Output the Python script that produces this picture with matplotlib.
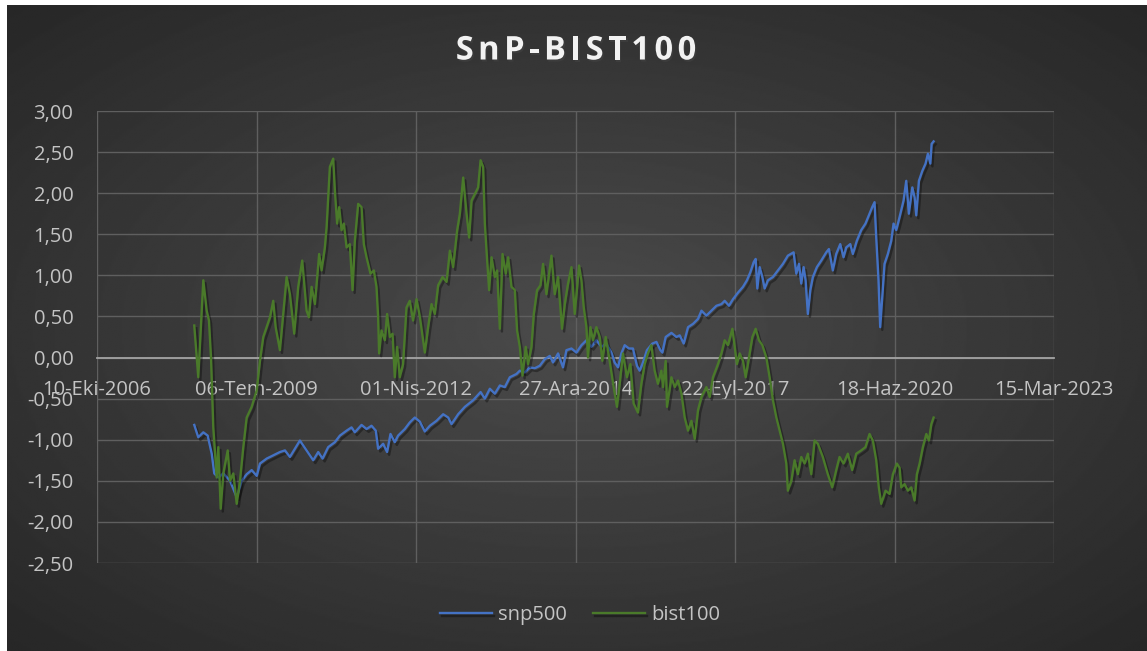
import numpy as np
import matplotlib
matplotlib.use('Agg')
import matplotlib.pyplot as plt
import matplotlib.dates as mdates
import matplotlib.patheffects as pe
from datetime import datetime

# decimal years and standardized values
snp_years = [2008.442, 2008.511, 2008.597, 2008.672, 2008.741, 2008.785, 2008.854, 2008.940,
             2009.055, 2009.170, 2009.255, 2009.341, 2009.427, 2009.513, 2009.569, 2009.684,
             2009.797, 2009.912, 2009.998, 2010.084, 2010.170, 2010.255, 2010.370, 2010.484,
             2010.570, 2010.645, 2010.741, 2010.856, 2010.942, 2011.057, 2011.142, 2011.199,
             2011.314, 2011.400, 2011.485, 2011.559, 2011.599, 2011.685, 2011.753, 2011.811,
             2011.885, 2011.942, 2012.057, 2012.142, 2012.228, 2012.314, 2012.400, 2012.486,
             2012.600, 2012.714, 2012.800, 2012.858, 2012.971, 2013.086, 2013.228, 2013.356,
             2013.429, 2013.515, 2013.601, 2013.687, 2013.772, 2013.858, 2013.973, 2014.030,
             2014.115, 2014.201, 2014.287, 2014.373, 2014.458, 2014.544, 2014.601, 2014.687,
             2014.772, 2014.831, 2014.917, 2015.002, 2015.088, 2015.174, 2015.259, 2015.345,
             2015.431, 2015.517, 2015.603, 2015.659, 2015.716, 2015.774, 2015.831, 2015.905,
             2015.973, 2016.042, 2016.088, 2016.145, 2016.213, 2016.306, 2016.375, 2016.443,
             2016.477, 2016.534, 2016.632, 2016.718, 2016.774, 2016.843, 2016.917, 2017.003,
             2017.088, 2017.147, 2017.232, 2017.318, 2017.404, 2017.490, 2017.546, 2017.620,
             2017.689, 2017.775, 2017.860, 2017.929, 2017.988, 2018.044, 2018.078, 2018.107,
             2018.147, 2018.193, 2018.233, 2018.289, 2018.375, 2018.461, 2018.547, 2018.632,
             2018.730, 2018.777, 2018.822, 2018.862, 2018.902, 2018.936, 2018.975, 2019.017,
             2019.061, 2019.130, 2019.205, 2019.291, 2019.336, 2019.404, 2019.462, 2019.531,
             2019.588, 2019.634, 2019.703, 2019.748, 2019.816, 2019.891, 2019.965, 2020.034,
             2020.080, 2020.120, 2020.149, 2020.188, 2020.217, 2020.252, 2020.291, 2020.348,
             2020.406, 2020.446, 2020.492, 2020.549, 2020.617, 2020.663, 2020.708, 2020.767,
             2020.806, 2020.835, 2020.880, 2020.938, 2020.994, 2021.034, 2021.076, 2021.098,
             2021.132]
snp500 = [-0.82, -0.97, -0.91, -0.95, -1.17, -1.41, -1.46, -1.41,
          -1.50, -1.70, -1.50, -1.42, -1.37, -1.44, -1.29, -1.23,
          -1.19, -1.15, -1.13, -1.21, -1.11, -1.01, -1.13, -1.25,
          -1.15, -1.23, -1.09, -1.03, -0.95, -0.89, -0.85, -0.91,
          -0.82, -0.87, -0.83, -0.89, -1.11, -1.05, -1.15, -0.93,
          -1.03, -0.95, -0.87, -0.79, -0.73, -0.78, -0.90, -0.83,
          -0.77, -0.69, -0.73, -0.81, -0.69, -0.60, -0.52, -0.42,
          -0.50, -0.38, -0.44, -0.34, -0.36, -0.24, -0.20, -0.16,
          -0.18, -0.12, -0.13, -0.10, -0.02, 0.02, -0.06, 0.05,
          -0.12, 0.09, 0.11, 0.06, 0.15, 0.21, 0.13, 0.21,
          0.13, 0.17, 0.06, -0.06, -0.12, 0.05, 0.15, 0.11,
          0.11, -0.10, -0.16, -0.06, 0.09, 0.17, 0.19, 0.09,
          0.06, 0.25, 0.30, 0.25, 0.27, 0.17, 0.37, 0.41,
          0.47, 0.57, 0.51, 0.57, 0.63, 0.65, 0.69, 0.63,
          0.71, 0.79, 0.86, 0.94, 1.04, 1.16, 1.20, 0.84,
          1.10, 0.98, 0.84, 0.94, 0.98, 1.06, 1.14, 1.24,
          1.28, 1.02, 1.14, 0.90, 1.10, 0.94, 0.53, 0.82,
          0.98, 1.10, 1.18, 1.28, 1.32, 1.06, 1.26, 1.38,
          1.22, 1.34, 1.38, 1.26, 1.42, 1.55, 1.63, 1.75,
          1.83, 1.89, 1.46, 0.94, 0.37, 0.73, 1.14, 1.26,
          1.42, 1.63, 1.55, 1.71, 1.91, 2.15, 1.75, 2.07,
          1.95, 1.73, 2.15, 2.27, 2.36, 2.48, 2.36, 2.60,
          2.63]

bist_years = [2008.442, 2008.511, 2008.597, 2008.655, 2008.694, 2008.729, 2008.768, 2008.826,
              2008.854, 2008.895, 2008.940, 2009.015, 2009.055, 2009.111, 2009.170, 2009.226,
              2009.283, 2009.341, 2009.427, 2009.513, 2009.569, 2009.626, 2009.684, 2009.741,
              2009.797, 2009.839, 2009.912, 2009.969, 2010.027, 2010.084, 2010.158, 2010.226,
              2010.295, 2010.370, 2010.410, 2010.456, 2010.513, 2010.586, 2010.628, 2010.684,
              2010.714, 2010.770, 2010.827, 2010.856, 2010.895, 2010.930, 2010.971, 2011.010,
              2011.057, 2011.113, 2011.160, 2011.199, 2011.256, 2011.314, 2011.353, 2011.400,
              2011.468, 2011.525, 2011.571, 2011.599, 2011.616, 2011.657, 2011.714, 2011.753,
              2011.800, 2011.846, 2011.885, 2011.925, 2011.971, 2012.027, 2012.086, 2012.142,
              2012.199, 2012.258, 2012.314, 2012.400, 2012.456, 2012.515, 2012.571, 2012.628,
              2012.704, 2012.772, 2012.829, 2012.885, 2012.954, 2013.000, 2013.057, 2013.115,
              2013.160, 2013.201, 2013.258, 2013.314, 2013.356, 2013.400, 2013.429, 2013.469,
              2013.503, 2013.544, 2013.601, 2013.640, 2013.687, 2013.733, 2013.789, 2013.829,
              2013.887, 2013.944, 2013.983, 2014.030, 2014.076, 2014.132, 2014.172, 2014.230,
              2014.270, 2014.326, 2014.385, 2014.429, 2014.488, 2014.573, 2014.630, 2014.687,
              2014.755, 2014.802, 2014.858, 2014.917, 2014.973, 2015.047, 2015.088, 2015.128,
              2015.174, 2015.201, 2015.242, 2015.287, 2015.345, 2015.402, 2015.448, 2015.505,
              2015.573, 2015.642, 2015.699, 2015.745, 2015.802, 2015.870, 2015.929, 2015.985,
              2016.059, 2016.117, 2016.174, 2016.230, 2016.289, 2016.345, 2016.402, 2016.460,
              2016.488, 2016.534, 2016.557, 2016.632, 2016.689, 2016.745, 2016.804, 2016.860,
              2016.917, 2016.975, 2017.032, 2017.088, 2017.147, 2017.232, 2017.289, 2017.345,
              2017.431, 2017.490, 2017.546, 2017.603, 2017.678, 2017.718, 2017.757, 2017.804,
              2017.860, 2017.907, 2017.963, 2018.022, 2018.078, 2018.135, 2018.193, 2018.262,
              2018.318, 2018.375, 2018.434, 2018.490, 2018.547, 2018.605, 2018.632, 2018.691,
              2018.747, 2018.804, 2018.862, 2018.919, 2018.975, 2019.034, 2019.090, 2019.147,
              2019.232, 2019.318, 2019.394, 2019.462, 2019.519, 2019.588, 2019.661, 2019.737,
              2019.806, 2019.891, 2019.965, 2020.034, 2020.091, 2020.149, 2020.193, 2020.235,
              2020.308, 2020.377, 2020.434, 2020.502, 2020.549, 2020.578, 2020.634, 2020.691,
              2020.749, 2020.806, 2020.845, 2020.892, 2020.948, 2021.007, 2021.051, 2021.093,
              2021.132]
bist100 = [0.39, -0.24, 0.94, 0.57, 0.45, 0.00, -0.85, -1.46,
           -1.09, -1.84, -1.41, -1.13, -1.50, -1.41, -1.78, -1.50,
           -1.09, -0.73, -0.60, -0.40, -0.04, 0.25, 0.37, 0.49,
           0.69, 0.37, 0.09, 0.53, 0.98, 0.77, 0.29, 0.86,
           1.18, 0.57, 0.49, 0.86, 0.65, 1.26, 1.06, 1.34,
           1.59, 2.32, 2.42, 2.03, 1.63, 1.83, 1.55, 1.63,
           1.34, 1.38, 0.82, 1.42, 1.87, 1.83, 1.38, 1.22,
           1.02, 1.06, 0.86, 0.49, 0.05, 0.33, 0.21, 0.53,
           0.25, 0.29, -0.24, 0.13, -0.24, -0.08, 0.61, 0.69,
           0.45, 0.71, 0.50, 0.06, 0.37, 0.65, 0.53, 0.88,
           0.98, 0.92, 1.30, 1.10, 1.55, 1.75, 2.19, 1.75,
           1.46, 1.91, 1.99, 2.07, 2.40, 2.32, 1.63, 1.18,
           0.82, 1.22, 0.98, 1.06, 0.35, 1.26, 1.02, 1.22,
           0.86, 0.82, 0.33, 0.13, -0.22, 0.13, -0.08, 0.13,
           0.53, 0.82, 0.88, 1.14, 0.77, 1.24, 0.77, 0.98,
           0.35, 0.65, 0.90, 1.10, 0.53, 1.12, 0.94, 0.61,
           0.37, 0.00, 0.37, 0.21, 0.37, 0.25, -0.04, 0.25,
           -0.04, -0.36, -0.60, -0.32, 0.05, -0.24, -0.08, -0.56,
           -0.67, -0.32, -0.08, 0.05, 0.15, -0.16, -0.32, -0.16,
           -0.36, -0.04, -0.60, -0.24, -0.36, -0.28, -0.44, -0.73,
           -0.89, -0.77, -0.99, -0.64, -0.48, -0.36, -0.48, -0.24,
           -0.08, 0.05, 0.21, 0.15, 0.35, 0.13, -0.08, 0.05,
           -0.04, -0.24, 0.00, 0.25, 0.35, 0.21, 0.15, 0.00,
           -0.24, -0.52, -0.73, -0.89, -1.05, -1.29, -1.62, -1.50,
           -1.25, -1.42, -1.21, -1.29, -1.17, -1.42, -1.01, -1.05,
           -1.21, -1.42, -1.58, -1.37, -1.21, -1.29, -1.17, -1.37,
           -1.17, -1.13, -1.09, -0.93, -1.01, -1.25, -1.58, -1.78,
           -1.62, -1.66, -1.42, -1.29, -1.34, -1.58, -1.54, -1.62,
           -1.58, -1.74, -1.42, -1.29, -1.09, -0.93, -1.01, -0.81,
           -0.73]

tr_months = ['Oca', 'Şub', 'Mar', 'Nis', 'May', 'Haz',
             'Tem', 'Ağu', 'Eyl', 'Eki', 'Kas', 'Ara']
y_ticks = [-2.5, -2.0, -1.5, -1.0, -0.5, 0.0, 0.5, 1.0, 1.5, 2.0, 2.5, 3.0]
title = 'SnP-BIST100'


def year_to_num(y):
    y0 = int(y)
    a = mdates.date2num(datetime(y0, 1, 1))
    b = mdates.date2num(datetime(y0 + 1, 1, 1))
    return a + (y - y0) * (b - a)


def tr_date(x, pos=None):
    d = mdates.num2date(x)
    return f"{d.day:02d}-{tr_months[d.month - 1]}-{d.year}"


def spaced_title(fig, text, cx, cy, spacing, **kw):
    # Excel draws the title with extra letter spacing; place glyphs one by one
    W = fig.get_figwidth() * fig.dpi
    H = fig.get_figheight() * fig.dpi
    r = fig.canvas.get_renderer()
    widths = []
    for ch in text:
        t = fig.text(0, 0, ch, **kw)
        widths.append(t.get_window_extent(r).width)
        t.remove()
    total = sum(widths) + spacing * (len(text) - 1)
    x = cx - total / 2
    for ch, w in zip(text, widths):
        fig.text(x / W, 1 - cy / H, ch, ha='left', va='center', **kw)
        x += w + spacing


def main():
    plt.rcParams['font.family'] = ['Open Sans', 'DejaVu Sans']
    W, H = 1147, 651
    fig = plt.figure(figsize=(W / 100, H / 100), dpi=100, facecolor='white')

    # radial dark background
    bg = fig.add_axes([7 / W, 0, 1 - 7 / W, 1 - 5 / H], zorder=-5)
    gx, gy = np.meshgrid(np.linspace(-1, 1, 600), np.linspace(-1, 1, 340))
    r = np.sqrt(gx ** 2 + gy ** 2)
    shade = np.clip(0.295 - 0.10 * r, 0.14, 1)
    bg.imshow(shade, cmap='gray', vmin=0, vmax=1, aspect='auto', interpolation='bilinear')
    bg.axis('off')

    ax = fig.add_axes([97 / W, 1 - 563 / H, (1054 - 97) / W, (563 - 111) / H])
    ax.set_facecolor('none')

    start = mdates.date2num(datetime(2006, 10, 10))
    ticks = [start + 1000 * i for i in range(7)]
    ax.set_xlim(ticks[0], ticks[-1])
    ax.set_ylim(-2.5, 3.0)
    ax.set_xticks(ticks)
    ax.xaxis.set_major_formatter(plt.FuncFormatter(tr_date))
    ax.set_yticks(y_ticks)
    ax.set_yticklabels([f"{v:.2f}".replace('.', ',') for v in y_ticks])

    ax.grid(True, color='#5f5f5f', linewidth=1.0)
    ax.set_axisbelow(True)
    for s in ['top', 'right', 'left']:
        ax.spines[s].set_visible(False)
    ax.spines['bottom'].set_position(('data', 0))
    ax.spines['bottom'].set_color('#a3a3a3')
    ax.spines['bottom'].set_linewidth(1.3)
    ax.spines['bottom'].set_zorder(1)

    ax.tick_params(axis='x', length=0, pad=16, labelsize=14.5, labelcolor='#c4c4c4')
    ax.tick_params(axis='y', length=0, pad=17, labelsize=14.5, labelcolor='#c4c4c4')

    shadow = [pe.SimpleLineShadow(offset=(1.5, -2), shadow_color='black', alpha=0.35), pe.Normal()]
    ax.plot([year_to_num(y) for y in snp_years], snp500, color='#4472c4', lw=1.7,
            label='snp500', path_effects=shadow, zorder=3)
    ax.plot([year_to_num(y) for y in bist_years], bist100, color='#4a7a2a', lw=1.7,
            label='bist100', path_effects=shadow, zorder=3)

    spaced_title(fig, title, 576, 51, 4.5, fontsize=23.5, fontweight='bold', color='#f2f2f2',
                 path_effects=[pe.withSimplePatchShadow(offset=(1, -1.5), alpha=0.4)])

    leg = ax.legend(loc='center', bbox_to_anchor=(580 / W, 1 - 615 / H),
                    bbox_transform=fig.transFigure, ncol=2, frameon=False,
                    fontsize=14.5, handlelength=2.6, handletextpad=0.3, columnspacing=1.3)
    for t in leg.get_texts():
        t.set_color('#c4c4c4')

    fig.savefig('out.png', dpi=100, facecolor='white')


if __name__ == "__main__":
    main()
